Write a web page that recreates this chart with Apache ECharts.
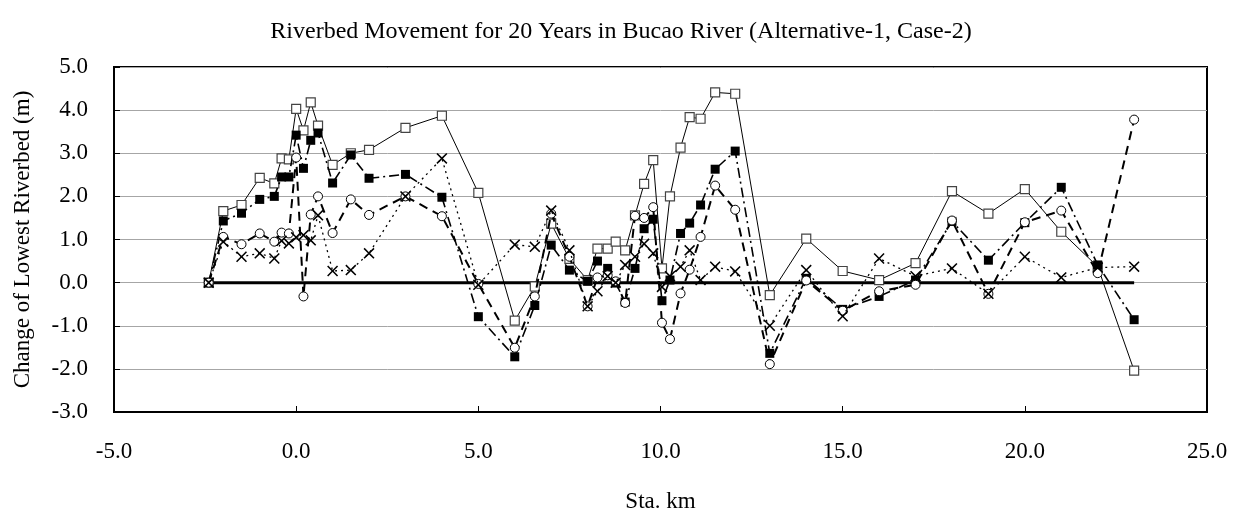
<!DOCTYPE html>
<html>
<head>
<meta charset="utf-8">
<script src="https://cdn.jsdelivr.net/npm/echarts@6/dist/echarts.min.js"></script>
<style>html,body{margin:0;padding:0;background:#fff}#c{width:1242px;height:518px}</style>
</head>
<body>
<div id="c"></div>
<script>
const titleText = 'Riverbed Movement for 20 Years in Bucao River (Alternative-1, Case-2)';
const xName = 'Sta. km';
const yName = 'Change of Lowest Riverbed (m)';
const stations = [-2.4,-2.0,-1.5,-1.0,-0.6,-0.4,-0.2,0.0,0.2,0.4,0.6,1.0,1.5,2.0,3.0,4.0,5.0,6.0,6.55,7.0,7.5,8.0,8.27,8.55,8.77,9.03,9.3,9.55,9.8,10.04,10.26,10.55,10.8,11.1,11.5,12.05,13.0,14.0,15.0,16.0,17.0,18.0,19.0,20.0,21.0,22.0,23.0];
const openSquares = [0,1.66,1.80,2.43,2.30,2.88,2.86,4.03,3.53,4.18,3.64,2.73,3.0,3.08,3.59,3.87,2.08,-0.88,-0.09,1.37,0.55,0.06,0.79,0.79,0.95,0.75,1.56,2.29,2.84,0.33,2.0,3.13,3.84,3.8,4.41,4.38,-0.29,1.02,0.27,0.06,0.45,2.12,1.6,2.17,1.18,0.37,-2.04];
const filledSquares = [0,1.43,1.61,1.93,2.0,2.45,2.45,3.42,2.65,3.3,3.47,2.31,2.96,2.42,2.51,1.98,-0.79,-1.72,-0.53,0.87,0.29,0.03,0.5,0.33,-0.01,-0.45,0.33,1.25,1.47,-0.42,0.06,1.14,1.38,1.8,2.63,3.05,-1.64,0.1,-0.62,-0.32,0.06,1.42,0.52,1.39,2.21,0.41,-0.86];
const circles = [0,1.06,0.89,1.14,0.95,1.16,1.14,2.9,-0.32,1.58,2.0,1.15,1.93,1.57,2.0,1.54,-0.03,-1.51,-0.32,1.6,0.6,-0.55,0.12,0.17,0.03,-0.47,1.55,1.5,1.75,-0.93,-1.31,-0.25,0.3,1.06,2.25,1.69,-1.89,0.05,-0.65,-0.2,-0.05,1.44,-0.26,1.4,1.67,0.22,3.78];
const crosses = [0,0.95,0.6,0.68,0.56,0.97,0.91,1.05,1.1,0.98,1.56,0.27,0.29,0.68,2.0,2.88,-0.05,0.88,0.83,1.67,0.75,-0.55,-0.2,0.15,0.0,0.41,0.6,0.9,0.68,-0.1,0.15,0.37,0.75,0.06,0.37,0.26,-1.0,0.29,-0.78,0.56,0.15,0.33,-0.26,0.6,0.12,0.35,0.37];
const zeroLineX = [-2.4, 23.0];
const zeroLineY = [0, 0];

const pair = (xs, ys) => xs.map((x, i) => [x, ys[i]]);
const FONT = 'Liberation Serif, Times New Roman, serif';
const crossPath = 'path://M0,1 L1,0 L5,4 L9,0 L10,1 L6,5 L10,9 L9,10 L5,6 L1,10 L0,9 L4,5 Z';

const chart = echarts.init(document.getElementById('c'), null, {renderer: 'canvas'});
chart.setOption({
  animation: false,
  backgroundColor: '#fff',
  title: {
    text: titleText, left: 'center', top: 15,
    textStyle: {fontFamily: FONT, fontSize: 24, fontWeight: 'normal', color: '#000'}
  },
  grid: {left: 114, right: 35, top: 67, bottom: 105, show: true, borderColor: '#000', borderWidth: 2, backgroundColor: 'transparent'},
  xAxis: {
    type: 'value', min: -5, max: 25, interval: 5,
    name: xName, nameLocation: 'middle', nameGap: 78,
    nameTextStyle: {fontFamily: FONT, fontSize: 23, color: '#000'},
    axisLine: {show: true, onZero: false, lineStyle: {color: '#000', width: 2}},
    axisTick: {show: true, inside: true, length: 6, lineStyle: {color: '#000', width: 1}},
    axisLabel: {fontFamily: FONT, fontSize: 23, color: '#000', margin: 28, formatter: v => v.toFixed(1)},
    splitLine: {show: false}
  },
  yAxis: {
    type: 'value', min: -3, max: 5, interval: 1,
    name: yName, nameLocation: 'middle', nameGap: 80, nameRotate: 90,
    nameTextStyle: {fontFamily: FONT, fontSize: 23, color: '#000'},
    axisLine: {show: true, onZero: false, lineStyle: {color: '#000', width: 2}},
    axisTick: {show: true, inside: true, length: 6, lineStyle: {color: '#000', width: 1}},
    axisLabel: {fontFamily: FONT, fontSize: 23, color: '#000', margin: 26, formatter: v => v.toFixed(1)},
    splitLine: {show: true, lineStyle: {color: '#a6a6a6', width: 1}}
  },
  series: [
    {
      type: 'line', data: pair(zeroLineX, zeroLineY), symbol: 'none', silent: true,
      lineStyle: {color: '#000', width: 3}, z: 1
    },
    {
      type: 'line', data: pair(stations, openSquares), symbol: 'rect', symbolSize: 9,
      lineStyle: {color: '#000', width: 1, type: 'solid'},
      itemStyle: {color: '#fff', borderColor: '#444', borderWidth: 1.2}, z: 2
    },
    {
      type: 'line', data: pair(stations, filledSquares), symbol: 'rect', symbolSize: 9,
      lineStyle: {color: '#000', width: 1.6, type: [10, 4, 2, 4]},
      itemStyle: {color: '#000', borderColor: '#000', borderWidth: 0}, z: 3
    },
    {
      type: 'line', data: pair(stations, circles), symbol: 'circle', symbolSize: 9,
      lineStyle: {color: '#000', width: 2, type: [9, 6]},
      itemStyle: {color: '#fff', borderColor: '#000', borderWidth: 1}, z: 4
    },
    {
      type: 'line', data: pair(stations, crosses), symbol: crossPath, symbolSize: 11,
      lineStyle: {color: '#000', width: 1.3, type: [2, 4]},
      itemStyle: {color: '#000', borderWidth: 0}, z: 5
    }
  ]
});
</script>
</body>
</html>
